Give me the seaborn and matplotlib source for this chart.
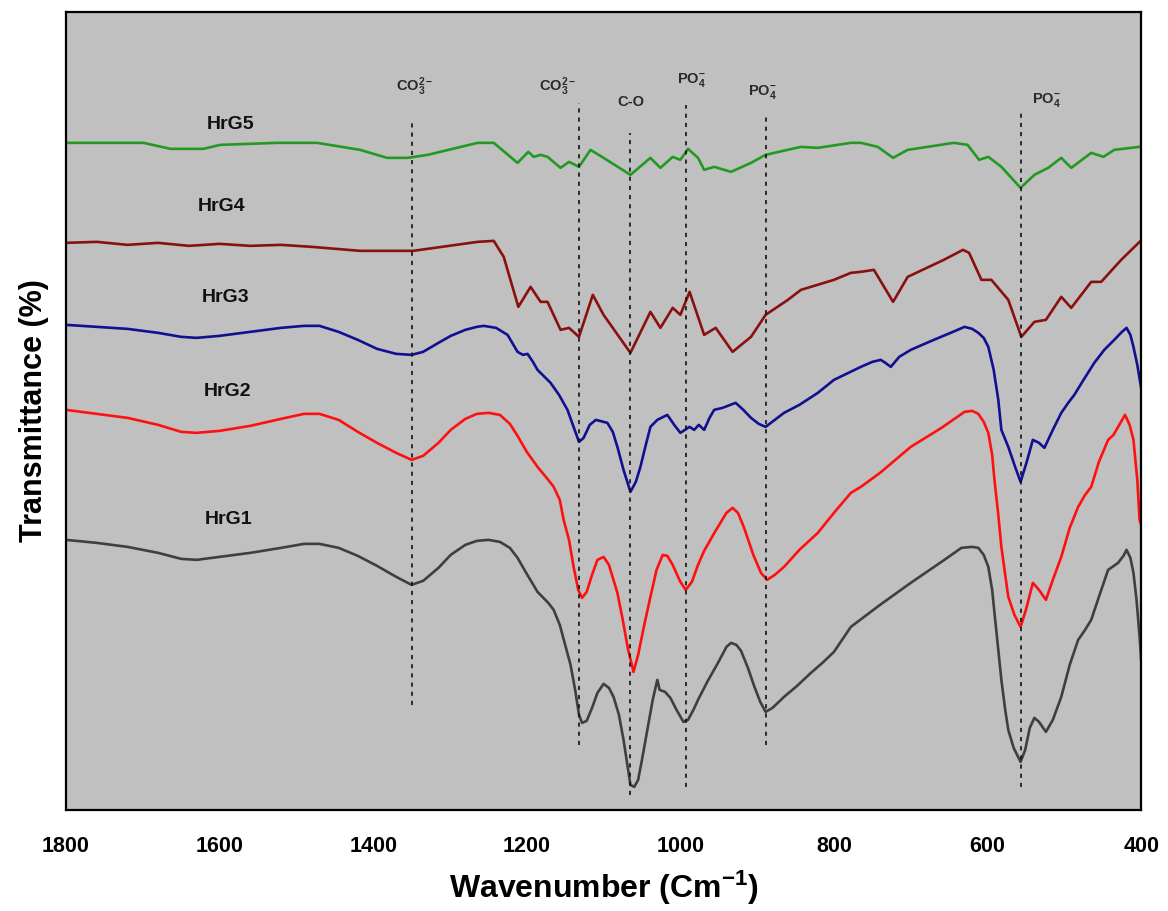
import numpy as np
import pandas as pd
import matplotlib
matplotlib.use("Agg")
import matplotlib.pyplot as plt
import seaborn as sns

# FTIR spectra (wavenumber in cm^-1, transmittance in arbitrary stacked units)
wn_hrg1 = [1800, 1760, 1720, 1680, 1650, 1630, 1600, 1560, 1520, 1490, 1470, 1445, 1420, 1395,
           1370, 1350, 1335, 1315, 1299, 1280, 1265, 1250, 1235, 1222, 1212, 1200, 1186, 1172,
           1165, 1157, 1150, 1143, 1137, 1132, 1128, 1122, 1115, 1108, 1100, 1093, 1087, 1080,
           1074, 1069, 1065, 1060, 1055, 1050, 1043, 1036, 1030, 1027, 1020, 1013, 1005, 996,
           990, 983, 977, 965, 951, 940, 934, 927, 921, 912, 904, 896, 889, 880, 865, 848,
           830, 815, 800, 778, 740, 700, 660, 634, 620, 612, 605, 599, 594, 591, 586, 582,
           577, 573, 566, 557, 551, 545, 539, 533, 524, 515, 504, 493, 482, 473, 465, 455,
           443, 430, 423, 419, 414, 410, 406, 402, 400]
t_hrg1 = [270, 267, 263, 257, 251, 250, 253, 257, 262, 266, 266, 262, 254, 244,
          233, 225, 229, 242, 255, 265, 269, 270, 268, 262, 252, 236, 218, 207,
          200, 185, 165, 145, 120, 95, 87, 89, 102, 117, 126, 122, 113, 95,
          70, 45, 25, 23, 30, 50, 80, 110, 130, 120, 118, 112, 100, 88,
          90, 100, 110, 128, 147, 163, 167, 165, 159, 142, 124, 108, 98, 102, 113, 124,
          137, 147, 158, 183, 205, 227, 248, 262, 263, 262, 255, 243, 220, 197, 160, 130,
          100, 80, 62, 48, 60, 82, 92, 88, 78, 90, 113, 145, 170, 180, 190, 213,
          240, 247, 254, 260, 252, 237, 210, 173, 150]

wn_hrg2 = [1800, 1760, 1720, 1680, 1650, 1630, 1600, 1560, 1520, 1490, 1470, 1445, 1420, 1395,
           1370, 1350, 1335, 1315, 1299, 1280, 1265, 1250, 1235, 1222, 1212, 1200, 1186, 1172,
           1165, 1157, 1152, 1145, 1139, 1133, 1128, 1122, 1115, 1108, 1100, 1093, 1082, 1075,
           1068, 1061, 1055, 1047, 1039, 1031, 1023, 1017, 1010, 1000, 993, 985, 977, 969,
           955, 940, 932, 925, 917, 905, 895, 887, 877, 865, 845, 821, 800, 778, 765, 740,
           700, 660, 630, 620, 612, 605, 599, 594, 591, 586, 582, 577, 573, 565, 557, 550,
           541, 533, 524, 515, 504, 493, 482, 473, 465, 455, 443, 436, 430, 421, 415, 410,
           405, 402, 400]
t_hrg2 = [400, 396, 392, 385, 378, 377, 379, 384, 391, 396, 396, 390, 378, 367,
          357, 350, 354, 367, 380, 391, 396, 397, 395, 386, 374, 358, 343, 330,
          323, 310, 290, 270, 243, 220, 212, 218, 235, 250, 253, 245, 217, 190,
          160, 138, 155, 185, 213, 240, 255, 254, 245, 228, 220, 228, 245, 259,
          278, 297, 302, 297, 282, 255, 237, 230, 235, 243, 260, 277, 297, 317, 323, 337,
          363, 382, 398, 399, 396, 388, 377, 355, 330, 295, 263, 235, 213, 195, 183, 200,
          227, 220, 210, 230, 253, 282, 303, 315, 323, 348, 370, 375, 383, 395, 385, 370,
          330, 290, 285]

wn_hrg3 = [1800, 1760, 1720, 1680, 1650, 1630, 1600, 1560, 1520, 1490, 1470, 1445, 1420, 1395,
           1370, 1350, 1335, 1315, 1299, 1280, 1265, 1256, 1240, 1225, 1212, 1205, 1199, 1192,
           1186, 1169, 1158, 1147, 1140, 1132, 1126, 1118, 1110, 1100, 1095, 1088, 1082, 1074,
           1065, 1058, 1052, 1045, 1039, 1030, 1017, 1008, 1000, 994, 988, 982, 976, 969,
           962, 956, 945, 935, 928, 918, 908, 898, 889, 877, 865, 845, 821, 800, 765, 750,
           739, 733, 726, 715, 700, 670, 645, 630, 620, 612, 605, 599, 592, 586, 582, 573,
           565, 557, 549, 541, 533, 526, 515, 504, 495, 487, 475, 461, 448, 435, 425, 419,
           414, 410, 405, 400]
t_hrg3 = [485, 483, 481, 477, 473, 472, 474, 478, 482, 484, 484, 478, 470, 461,
          456, 455, 458, 467, 474, 480, 483, 484, 482, 475, 458, 455, 456, 448,
          440, 427, 415, 400, 385, 368, 372, 385, 390, 388, 387, 378, 363, 340,
          318, 328, 343, 365, 383, 390, 395, 385, 377, 380, 383, 380, 385, 380,
          392, 400, 402, 405, 407, 400, 392, 386, 383, 390, 397, 405, 417, 430, 443, 448,
          450, 447, 443, 453, 460, 470, 478, 483, 481, 477, 472, 463, 440, 410, 380, 363,
          345, 328, 348, 370, 367, 362, 380, 397, 407, 415, 430, 447, 460, 470, 478, 482,
          475, 463, 445, 422]

wn_hrg4 = [1800, 1760, 1720, 1680, 1640, 1600, 1560, 1520, 1480, 1417, 1348, 1264, 1243, 1230,
           1211, 1195, 1182, 1173, 1156, 1145, 1132, 1114, 1100, 1065, 1039, 1026, 1010, 1000,
           988, 969, 954, 932, 908, 889, 860, 843, 800, 778, 765, 748, 723, 704, 657, 632,
           624, 608, 595, 573, 556, 539, 524, 504, 491, 465, 452, 426, 402, 400]
t_hrg4 = [567, 568, 565, 567, 564, 566, 564, 565, 563, 559, 559, 568, 569, 553,
          503, 523, 508, 508, 480, 482, 473, 515, 495, 457, 498, 482, 502, 495,
          518, 475, 482, 458, 473, 495, 510, 520, 530, 537, 538, 540, 508, 533, 550, 560,
          557, 530, 530, 510, 473, 488, 490, 513, 502, 528, 528, 550, 568, 569]

wn_hrg5 = [1800, 1699, 1664, 1621, 1599, 1525, 1473, 1417, 1382, 1355, 1329, 1264, 1243, 1212,
           1198, 1191, 1182, 1173, 1156, 1145, 1132, 1117, 1100, 1065, 1039, 1026, 1010, 1000,
           990, 977, 969, 956, 934, 908, 889, 843, 821, 778, 765, 743, 723, 704, 644, 626,
           611, 599, 582, 557, 539, 521, 504, 491, 465, 449, 435, 402, 400]
t_hrg5 = [667, 667, 661, 661, 665, 667, 667, 660, 652, 652, 655, 667, 667, 647,
          658, 653, 655, 653, 642, 648, 643, 660, 652, 635, 652, 642, 653, 650,
          661, 652, 640, 643, 638, 647, 655, 663, 662, 667, 667, 663, 652, 660, 667, 665,
          650, 653, 643, 622, 635, 642, 652, 642, 657, 653, 660, 663, 664]

samples = ["HrG1", "HrG2", "HrG3", "HrG4", "HrG5"]
colors = ["#3f3f3f", "#ff1010", "#101090", "#8a1010", "#229a22"]
label_wn = [1588, 1590, 1592, 1598, 1586]
label_t = [290, 418, 512, 603, 685]

# band assignments
band_wn = [1349, 1132, 1065, 993, 889, 557]
band_text = [r"CO$_3^{2-}$", r"CO$_3^{2-}$", "C-O", r"PO$_4^{-}$", r"PO$_4^{-}$", r"PO$_4^{-}$"]
band_text_wn = [1346, 1160, 1065, 985, 893, 523]
band_text_t = [723, 723, 708, 730, 718, 710]
band_top = [690, 707, 677, 705, 697, 697]
band_bottom = [105, 65, 15, 23, 65, 23]

frames = []
for name, wn, t in zip(samples,
                       [wn_hrg1, wn_hrg2, wn_hrg3, wn_hrg4, wn_hrg5],
                       [t_hrg1, t_hrg2, t_hrg3, t_hrg4, t_hrg5]):
    frames.append(pd.DataFrame({"wavenumber": wn, "transmittance": t, "sample": name}))
spectra = pd.concat(frames, ignore_index=True)

sns.set_style("white")
plt.rcParams["font.family"] = ["Liberation Sans", "DejaVu Sans"]
plt.rcParams["font.weight"] = "bold"
plt.rcParams["text.color"] = "black"
plt.rcParams["axes.labelcolor"] = "black"
plt.rcParams["xtick.color"] = "black"
plt.rcParams["mathtext.fontset"] = "custom"
plt.rcParams["mathtext.rm"] = "Liberation Sans:bold"
plt.rcParams["mathtext.it"] = "Liberation Sans:bold"
plt.rcParams["mathtext.bf"] = "Liberation Sans:bold"

fig = plt.figure(figsize=(11.68, 9.11), dpi=100)
ax = fig.add_axes([0.0565, 0.111, 0.9205, 0.876])
ax.set_facecolor("#c0c0c0")

sns.lineplot(data=spectra, x="wavenumber", y="transmittance", hue="sample",
             palette=dict(zip(samples, colors)), sort=False, estimator=None,
             linewidth=1.9, legend=False, ax=ax)
for line in ax.get_lines():
    line.set_solid_joinstyle("round")

for wn, txt, twn, tt, top, bot in zip(band_wn, band_text, band_text_wn, band_text_t,
                                       band_top, band_bottom):
    ax.plot([wn, wn], [bot, top], color="#111111", linestyle=(0, (2.5, 3)), linewidth=1.2)
    ax.text(twn, tt, txt, ha="center", va="center", fontsize=10.5,
            fontweight="bold", color="#2a2a2a")

for name, c, lw, lt in zip(samples, colors, label_wn, label_t):
    ax.text(lw, lt, name, ha="center", va="center", fontsize=14,
            fontweight="bold", color="#111111")

ax.set_xlim(1800, 400)
ax.set_ylim(0, 798)
ax.set_xticks([1800, 1600, 1400, 1200, 1000, 800, 600, 400])
ax.set_yticks([])
ax.tick_params(axis="x", direction="out", length=11, width=1.6, labelsize=15.5, pad=8,
               colors="black")
for lab in ax.get_xticklabels():
    lab.set_fontweight("bold")
for s in ax.spines.values():
    s.set_visible(True)
    s.set_color("black")
    s.set_linewidth(1.6)

ax.set_xlabel(r"Wavenumber (Cm$^{-1}$)", fontsize=23, fontweight="bold", labelpad=8)
ax.set_ylabel("Transmittance (%)", fontsize=22, fontweight="bold", labelpad=12)

fig.savefig("out.png", dpi=100, facecolor="white")
